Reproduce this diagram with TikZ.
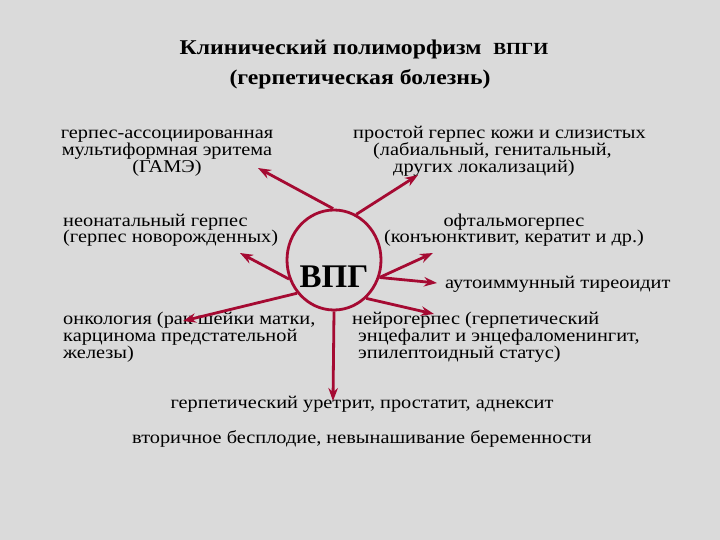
\documentclass[tikz,border=0pt]{standalone}
\usepackage{fontspec}
\setmainfont[FakeStretch=1.13]{Liberation Serif}
\newfontfamily\plainserif{Liberation Serif}
\usetikzlibrary{arrows.meta,shapes.geometric}
\definecolor{bgc}{HTML}{DADADA}
\definecolor{arr}{HTML}{A50A32}
\begin{document}
\begin{tikzpicture}[x=1pt,y=-1pt,
  txt/.style={inner sep=0pt,font=\fontsize{18}{17}\selectfont},
  ttl/.style={inner sep=0pt,anchor=base,font=\fontsize{21}{30}\selectfont\bfseries},
  arrline/.style={draw=arr,line width=2.8pt,-{Stealth[length=13pt,width=9.5pt]}}]
\fill[bgc] (0,0) rectangle (720,540);
\useasboundingbox (0,0) rectangle (720,540);
% title
\node[ttl] (t1) at (364,55) {Клинический полиморфизм\ \ {\fontsize{17}{30}\selectfont ВПГИ}};
\node[ttl] (t2) at (360,85) {(герпетическая болезнь)};
% circle
\node[draw=arr,line width=2.8pt,ellipse,minimum width=94pt,minimum height=100pt,inner sep=0pt] (c) at (334,260) {};
\node[inner sep=0pt,anchor=base,font=\plainserif\fontsize{33}{33}\selectfont\bfseries] (v) at (334,287) {ВПГ};
% text blocks (anchor base = baseline of last line)
\node[txt,align=center,anchor=base] (b1) at (167,173) {герпес-ассоциированная\\мультиформная эритема\\(ГАМЭ)};
\node[txt,align=left,anchor=base west] (b2) at (353,173) {простой герпес кожи и слизистых\\\hspace*{20pt}(лабиальный, генитальный,\\\hspace*{40pt}других локализаций)};
\node[txt,align=left,anchor=base west] (b3) at (63,243) {неонатальный герпес\\(герпес новорожденных)};
\node[txt,align=center,anchor=base] (b4) at (514,243) {офтальмогерпес\\(конъюнктивит, кератит и др.)};
\node[txt,anchor=base west] (b5) at (445,288) {аутоиммунный тиреоидит};
\node[txt,align=left,anchor=base west] (b6) at (63,358) {онкология (рак шейки матки,\\карцинома предстательной\\железы)};
\node[txt,align=left,anchor=base west] (b7) at (352,358) {нейрогерпес (герпетический\\\hspace*{6pt}энцефалит и энцефаломенингит,\\\hspace*{6pt}эпилептоидный статус)};
\node[txt,anchor=base] (b8) at (362,408) {герпетический уретрит, простатит, аднексит};
\node[txt,anchor=base] (b9) at (362,443) {вторичное бесплодие, невынашивание беременности};
% arrow ends
\coordinate (e1) at (258,168);
\coordinate (e2) at (418,175);
\coordinate (e3) at (240,253);
\coordinate (e4) at (183,321);
\coordinate (e5) at (333,401);
\coordinate (e6) at (434,314);
\coordinate (e7) at (433,253);
\coordinate (e8) at (437,283);
\draw[arrline] (c.91) -- (e1);
\draw[arrline] (c.64) -- (e2);
\draw[arrline] (c.203) -- (e3);
\draw[arrline] (c.222) -- (e4);
\draw[arrline] (c.270) -- (e5);
\draw[arrline] (c.310) -- (e6);
\draw[arrline] (c.339) -- (e7);
\draw[arrline] (c.339) -- (e8);
\end{tikzpicture}
\end{document}
